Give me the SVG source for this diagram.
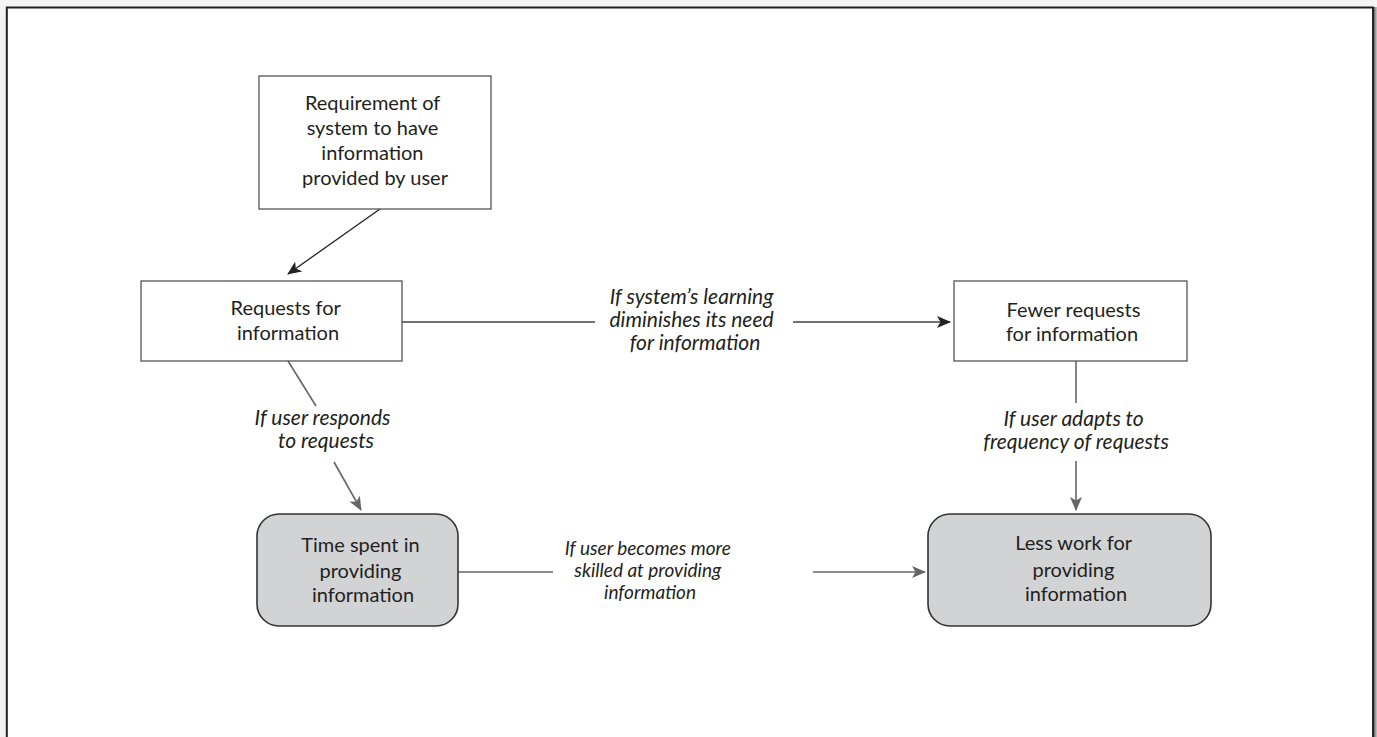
<svg xmlns="http://www.w3.org/2000/svg" width="1377" height="737" viewBox="0 0 1377 737">
  <defs>
    <linearGradient id="edgeShade" x1="0" y1="0" x2="1" y2="0">
      <stop offset="0" stop-color="#4a4a4a"/>
      <stop offset="1" stop-color="#c8c8c8"/>
    </linearGradient>
    <marker id="headDark" viewBox="0 0 14 12" refX="13" refY="6" markerWidth="14" markerHeight="12" markerUnits="userSpaceOnUse" orient="auto">
      <path d="M0,0 L14,6 L0,12 L3.5,6 Z" fill="#222"/>
    </marker>
    <marker id="headGray" viewBox="0 0 14 12" refX="13" refY="6" markerWidth="14" markerHeight="12" markerUnits="userSpaceOnUse" orient="auto">
      <path d="M0,0 L14,6 L0,12 L3.5,6 Z" fill="#666"/>
    </marker>
    <style>
      .box { fill: #ffffff; stroke: #555; stroke-width: 1.3; }
      .result { fill: #d2d3d5; stroke: #333; stroke-width: 1.6; }
      .node-text { font-family: Lato, "Liberation Sans", sans-serif; font-size: 20px; fill: #231f20; text-anchor: middle; }
      .label { font-family: Lato, "Liberation Sans", sans-serif; font-style: italic; font-size: 21px; fill: #231f20; text-anchor: middle; }
      .label.small { font-size: 19px; }
      .link-dark { fill: none; stroke: #222; stroke-width: 1.3; }
      .link-mid { fill: none; stroke: #444; stroke-width: 1.3; }
      .link-gray { fill: none; stroke: #666; stroke-width: 1.6; }
    </style>
  </defs>

  <!-- page background and frame -->
  <rect x="0" y="0" width="1377" height="737" fill="#f4f4f4"/>
  <rect x="7" y="7.5" width="1366" height="740" fill="#ffffff"/>
  <rect x="1373" y="7" width="4" height="730" fill="url(#edgeShade)"/>
  <path d="M6.8,737 L6.8,7.5 L1373,7.5 L1373,737" fill="none" stroke="#222" stroke-width="2"/>

  <!-- connectors -->
  <g id="connectors">
    <path class="link-dark" d="M380,209 L288,274" marker-end="url(#headDark)"/>
    <path class="link-mid" d="M402,322 L595,322"/>
    <path class="link-mid" d="M793,322 L950,322" marker-end="url(#headDark)"/>
    <path class="link-gray" d="M288,361 L316,406"/>
    <path class="link-gray" d="M334,462 L361,510" marker-end="url(#headGray)"/>
    <path class="link-gray" d="M1076,361 L1076,403"/>
    <path class="link-gray" d="M1076,461 L1076,510" marker-end="url(#headGray)"/>
    <path class="link-gray" d="M458,572 L553,572"/>
    <path class="link-gray" d="M813,572 L925,572" marker-end="url(#headGray)"/>

    <text class="label">
      <tspan x="694" y="304">If system’s learning</tspan>
      <tspan x="694" y="327">diminishes its need</tspan>
      <tspan x="695" y="350">for information</tspan>
    </text>
    <text class="label">
      <tspan x="325" y="425">If user responds</tspan>
      <tspan x="326" y="448">to requests</tspan>
    </text>
    <text class="label">
      <tspan x="1076" y="426">If user adapts to</tspan>
      <tspan x="1076" y="449">frequency of requests</tspan>
    </text>
    <text class="label small">
      <tspan x="650" y="555">If user becomes more</tspan>
      <tspan x="650" y="577">skilled at providing</tspan>
      <tspan x="650" y="599">information</tspan>
    </text>
  </g>

  <g id="requirement">
    <rect class="box" x="259" y="76" width="232" height="133"/>
    <text class="node-text">
      <tspan x="375" y="110">Requirement of</tspan>
      <tspan x="375" y="135">system to have</tspan>
      <tspan x="375" y="160">information</tspan>
      <tspan x="375" y="185">provided by user</tspan>
    </text>
  </g>

  <g id="requests">
    <rect class="box" x="141" y="281" width="261" height="80"/>
    <text class="node-text">
      <tspan x="288" y="315">Requests for</tspan>
      <tspan x="288" y="340">information</tspan>
    </text>
  </g>

  <g id="fewer-requests">
    <rect class="box" x="954" y="281" width="233" height="80"/>
    <text class="node-text">
      <tspan x="1076" y="317">Fewer requests</tspan>
      <tspan x="1072" y="341">for information</tspan>
    </text>
  </g>

  <g id="time-spent">
    <rect class="result" x="257" y="514" width="201" height="112" rx="22" ry="22"/>
    <text class="node-text">
      <tspan x="363" y="552">Time spent in</tspan>
      <tspan x="363" y="578">providing</tspan>
      <tspan x="363" y="602">information</tspan>
    </text>
  </g>

  <g id="less-work">
    <rect class="result" x="928" y="514" width="283" height="112" rx="22" ry="22"/>
    <text class="node-text">
      <tspan x="1076" y="550">Less work for</tspan>
      <tspan x="1076" y="577">providing</tspan>
      <tspan x="1076" y="601">information</tspan>
    </text>
  </g>
</svg>
